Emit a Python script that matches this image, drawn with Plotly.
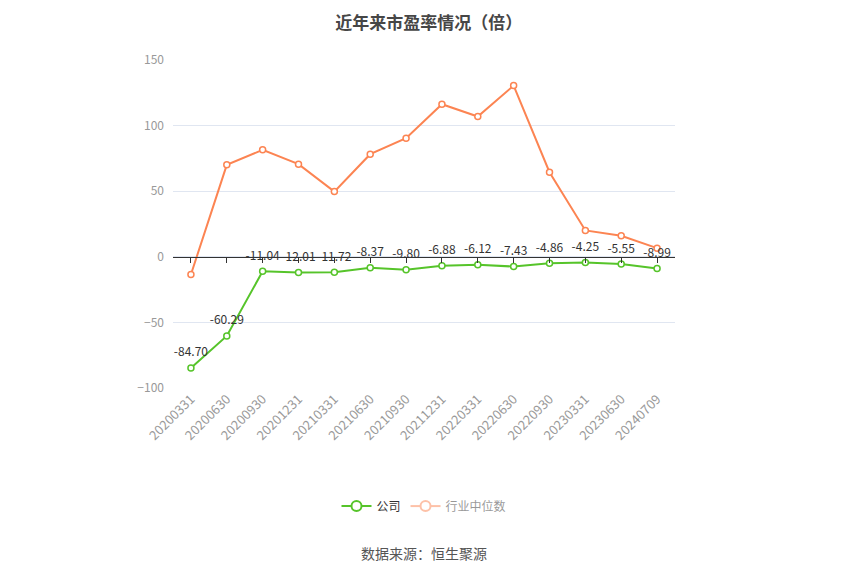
#!/usr/bin/env python3
"""近年来市盈率情况（倍） - line chart recreated with Plotly."""

import plotly.graph_objects as go

dates = [
    "20200331", "20200630", "20200930", "20201231", "20210331", "20210630",
    "20210930", "20211231", "20220331", "20220630", "20220930", "20230331",
    "20230630", "20240709",
]
company_pe = [
    -84.70, -60.29, -11.04, -12.01, -11.72, -8.37, -9.80,
    -6.88, -6.12, -7.43, -4.86, -4.25, -5.55, -8.99,
]
industry_median = [
    -13.5, 70.1, 81.5, 70.6, 49.7, 78.2, 90.4,
    116.3, 106.9, 130.5, 64.5, 20.1, 16.0, 6.6,
]
y_ticks = [-100, -50, 0, 50, 100, 150]

GREEN = "#56C42A"
ORANGE = "#FC8452"
FONT = "Noto Sans CJK SC"

fig = go.Figure()

# industry median (base subplot, under the company series)
fig.add_trace(go.Scatter(
    x=dates, y=industry_median, xaxis="x", yaxis="y",
    mode="lines+markers", name="行业中位数", showlegend=False,
    line=dict(color=ORANGE, width=2),
    marker=dict(symbol="circle", size=6, color="white",
                line=dict(color=ORANGE, width=1.5)),
    cliponaxis=False,
))

# company PE (overlaying subplot, drawn on top)
fig.add_trace(go.Scatter(
    x=dates, y=company_pe, xaxis="x2", yaxis="y",
    mode="lines+markers", name="公司", showlegend=False,
    line=dict(color=GREEN, width=2),
    marker=dict(symbol="circle", size=6, color="white",
                line=dict(color=GREEN, width=1.5)),
    cliponaxis=False,
))

# value labels, lifted a little above the points
fig.add_trace(go.Scatter(
    x=dates, y=company_pe, xaxis="x2", yaxis="y",
    mode="markers+text", showlegend=False, hoverinfo="skip",
    text=[f"{v:.2f}" for v in company_pe],
    textposition="top center",
    textfont=dict(size=12, color="#333333", family=FONT),
    marker=dict(size=12, color="rgba(0,0,0,0)"),
    cliponaxis=False,
))

# legend entries (company normal, industry faded)
fig.add_trace(go.Scatter(
    x=[None], y=[None], xaxis="x2", yaxis="y",
    mode="lines+markers", name="公司",
    line=dict(color=GREEN, width=2),
    marker=dict(symbol="circle", size=10, color="white",
                line=dict(color=GREEN, width=2)),
))
fig.add_trace(go.Scatter(
    x=dates, y=industry_median, xaxis="x", yaxis="y",
    mode="lines+markers", name="行业中位数", visible="legendonly",
    line=dict(color=ORANGE, width=2),
    marker=dict(symbol="circle", size=10, color="white",
                line=dict(color=ORANGE, width=2)),
))

fig.update_layout(
    width=850, height=575,
    margin=dict(l=165, r=183, t=52, b=195),
    paper_bgcolor="white", plot_bgcolor="white",
    font=dict(family=FONT, size=12, color="#999999"),
    title=dict(
        text="<b>近年来市盈率情况（倍）</b>",
        x=0.495, xanchor="center", yref="container", y=0.985, yanchor="top",
        pad=dict(t=0, b=0),
        font=dict(size=17, color="#464646", family=FONT),
    ),
    showlegend=True,
    legend=dict(
        orientation="h", x=0.5, xanchor="center", y=-0.36, yanchor="middle",
        font=dict(size=12, color="#333333", family=FONT),
        itemclick=False, itemdoubleclick=False,
    ),
    # zero line with category ticks
    xaxis=dict(
        type="category", categoryorder="array", categoryarray=dates,
        anchor="free", position=0.4,
        showline=True, linecolor="#333333", linewidth=1,
        ticks="outside", ticklen=5, tickcolor="#333333",
        showticklabels=False, showgrid=False, zeroline=False,
        range=[-0.5, len(dates) - 0.5],
    ),
    # bottom axis carrying the rotated date labels
    xaxis2=dict(
        type="category", categoryorder="array", categoryarray=dates,
        matches="x", anchor="y", side="bottom", overlaying="x",
        showline=False, ticks="", showgrid=False, zeroline=False,
        tickangle=-45, tickfont=dict(size=13, color="#999999", family=FONT),
    ),
    yaxis=dict(
        range=[-100, 150], tickvals=y_ticks,
        showgrid=True, gridcolor="#E0E6F1", gridwidth=1,
        zeroline=False, showline=False, ticks="",
        tickfont=dict(size=12, color="#999999", family=FONT),
        ticklabelstandoff=8,
    ),
    annotations=[dict(
        text="数据来源：恒生聚源", xref="paper", yref="paper",
        x=0.5, y=-0.503, xanchor="center", yanchor="middle",
        showarrow=False, font=dict(size=14, color="#555555", family=FONT),
    )],
)

fig.write_html("out.html")
